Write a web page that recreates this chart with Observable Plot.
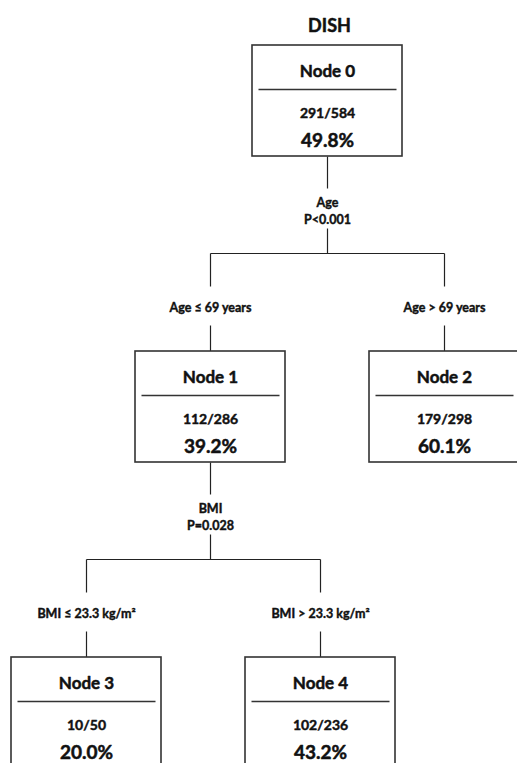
<!DOCTYPE html>
<html>
<head>
<meta charset="utf-8">
<script src="https://cdn.jsdelivr.net/npm/d3@7"></script>
<script src="https://cdn.jsdelivr.net/npm/@observablehq/plot@0.6"></script>
<style>
  html, body { margin: 0; padding: 0; background: #fff; }
  #chart svg { display: block; }
</style>
</head>
<body>
<div id="chart"></div>
<script>
// ---- Data ----
const title = "DISH";
const nodeIds = [0, 1, 2, 3, 4];
const parents = [null, 0, 0, 1, 1];
const depths = [0, 1, 1, 2, 2];
const positives = [291, 112, 179, 10, 102];
const totals = [584, 286, 298, 50, 236];
const percents = [49.8, 39.2, 60.1, 20.0, 43.2];
const branchLabels = [null, "Age ≤ 69 years", "Age > 69 years", "BMI ≤ 23.3 kg/m²", "BMI > 23.3 kg/m²"];
const splitNodes = [0, 1];
const splitVariables = ["Age", "BMI"];
const splitPValues = ["P<0.001", "P=0.028"];

// ---- Layout (pixel-like units of the x/y scales) ----
const W = 517, H = 763;
const centerX = {0: 327, 1: 210, 2: 444, 3: 86, 4: 320};
const topY = [45, 351, 657];
const boxW = 150, boxH = 111;

const nodes = nodeIds.map((id, i) => ({
  id, parent: parents[i], depth: depths[i],
  pos: positives[i], tot: totals[i], pct: percents[i],
  branch: branchLabels[i],
  cx: centerX[id], top: topY[depths[i]]
}));
const byId = new Map(nodes.map(n => [n.id, n]));

const segs = [];
const splitTexts = [];
const branchTexts = [];
splitNodes.forEach((pid, k) => {
  const p = byId.get(pid);
  const B = p.top + boxH;
  const kids = nodes.filter(n => n.parent === pid);
  segs.push({x1: p.cx, y1: B, x2: p.cx, y2: B + 32});
  segs.push({x1: p.cx, y1: B + 72, x2: p.cx, y2: B + 97});
  const xs = kids.map(c => c.cx);
  segs.push({x1: d3.min(xs), y1: B + 97, x2: d3.max(xs), y2: B + 97});
  splitTexts.push({x: p.cx, y: B + 46, t: splitVariables[k]});
  splitTexts.push({x: p.cx, y: B + 63, t: splitPValues[k]});
  kids.forEach(c => {
    segs.push({x1: c.cx, y1: B + 97, x2: c.cx, y2: B + 130});
    segs.push({x1: c.cx, y1: B + 169, x2: c.cx, y2: c.top});
    branchTexts.push({x: c.cx, y: B + 151, t: c.branch});
  });
});

const font = "Lato, 'Open Sans', sans-serif";
const ink = "#111";
const txt = (size, sw) => ({fontSize: size, fontWeight: 700, fill: ink, stroke: ink, strokeWidth: sw, lineAnchor: "middle"});

const chart = Plot.plot({
  width: W, height: H,
  margin: 0,
  x: {domain: [0, W], range: [0, W], axis: null},
  y: {domain: [0, H], range: [0, H], axis: null},
  style: {fontFamily: font, background: "#fff"},
  marks: [
    Plot.link(segs, {x1: "x1", y1: "y1", x2: "x2", y2: "y2", stroke: "#222", strokeWidth: 1.2}),
    Plot.rect(nodes, {
      x1: d => d.cx - boxW / 2, x2: d => d.cx + boxW / 2,
      y1: "top", y2: d => d.top + boxH,
      fill: "#fff", stroke: "#333", strokeWidth: 1.6
    }),
    Plot.link(nodes, {
      x1: d => d.cx - boxW / 2 + 6, x2: d => d.cx + boxW / 2 - 6,
      y1: d => d.top + 44, y2: d => d.top + 44,
      stroke: "#333", strokeWidth: 1.3
    }),
    Plot.text(nodes, {x: "cx", y: d => d.top + 26, text: d => `Node ${d.id}`, ...txt(17, 0.5)}),
    Plot.text(nodes, {x: "cx", y: d => d.top + 68, text: d => `${d.pos}/${d.tot}`, ...txt(14, 0.45)}),
    Plot.text(nodes, {x: "cx", y: d => d.top + 95, text: d => `${d.pct.toFixed(1)}%`, ...txt(19, 0.5)}),
    Plot.text(splitTexts, {x: "x", y: "y", text: "t", ...txt(12.5, 0.4)}),
    Plot.text(branchTexts, {x: "x", y: "y", text: "t", ...txt(12.5, 0.4)}),
    Plot.text([title], {x: () => 329, y: () => 26, text: d => d, ...txt(18, 0.5)})
  ]
});
document.getElementById("chart").appendChild(chart);
</script>
</body>
</html>
